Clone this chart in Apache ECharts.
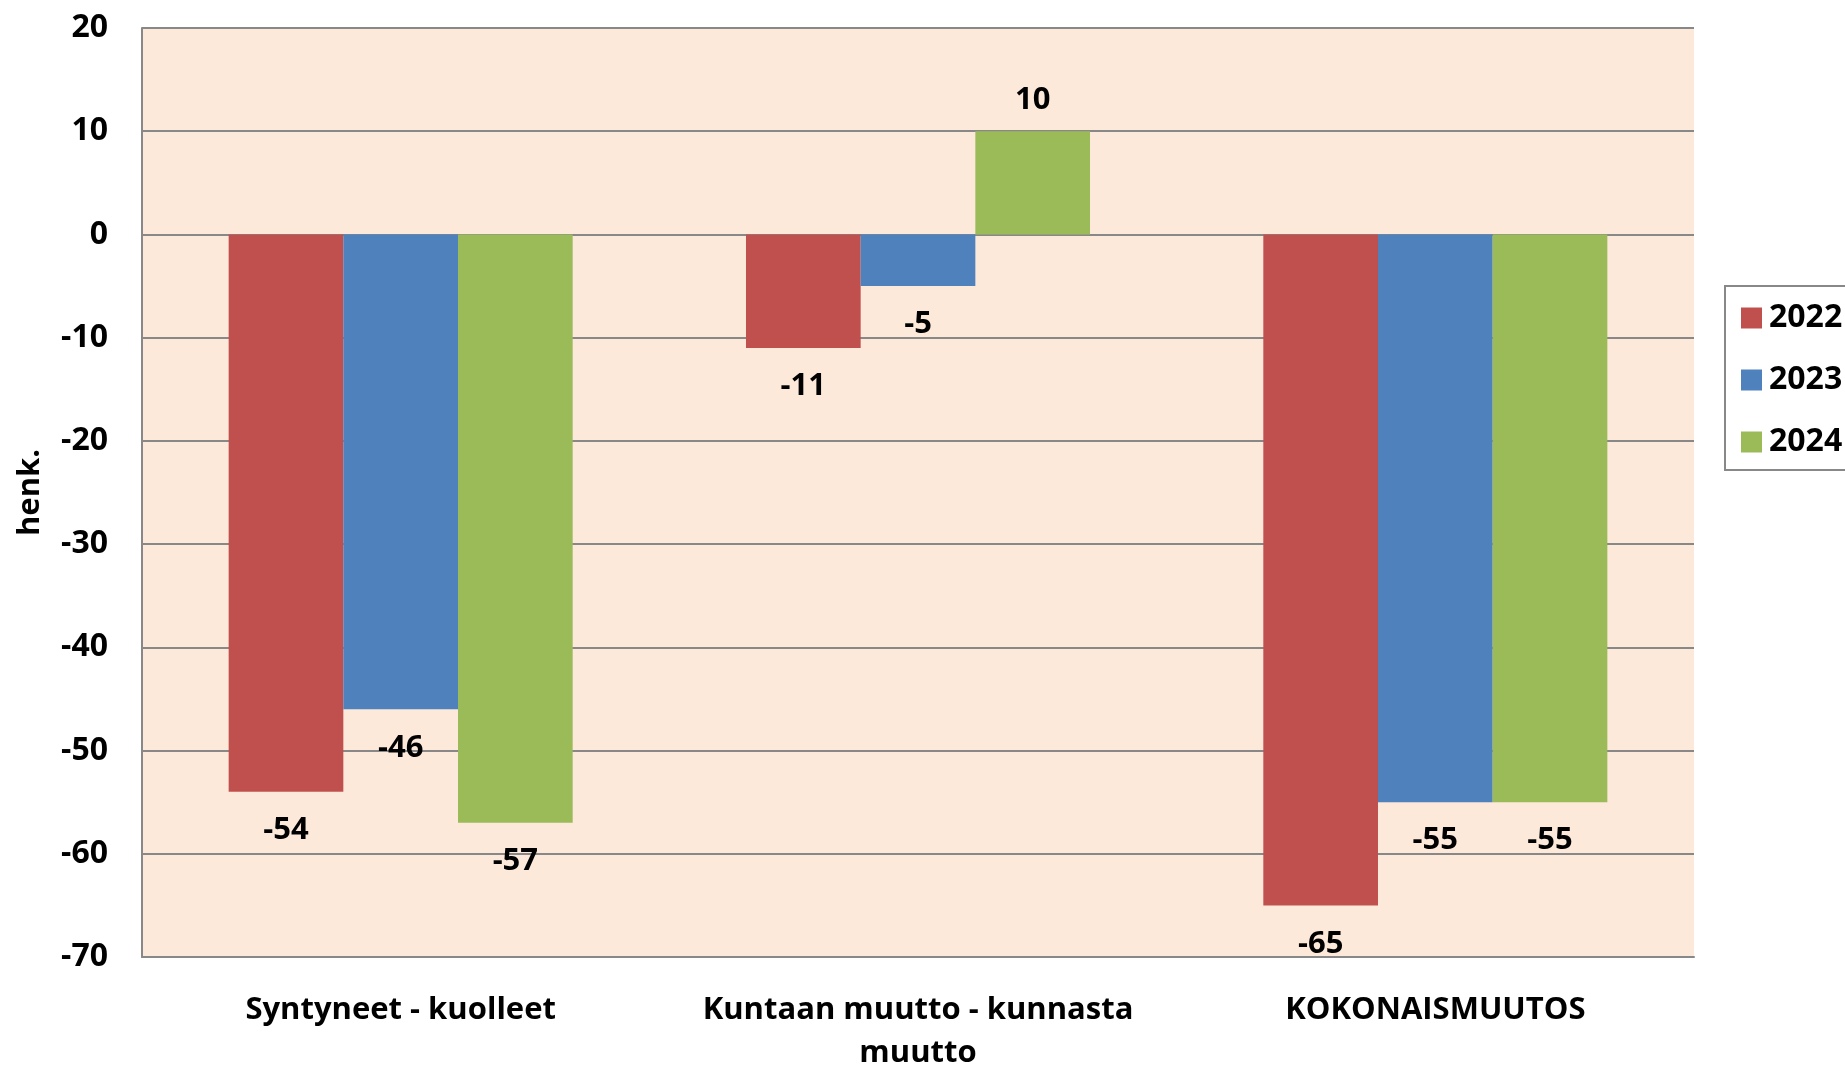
<!DOCTYPE html>
<html><head><meta charset="utf-8">
<script src="https://cdn.jsdelivr.net/npm/echarts@6/dist/echarts.min.js"></script>
<style>html,body{margin:0;padding:0;background:#fff}#c{width:1845px;height:1066px}</style>
</head><body><div id="c"></div>
<script>
const categories = ['Syntyneet - kuolleet', 'Kuntaan muutto - kunnasta\nmuutto', 'KOKONAISMUUTOS'];
const seriesNames = ['2022', '2023', '2024'];
const v2022 = [-54, -11, -65];
const v2023 = [-46, -5, -55];
const v2024 = [-57, 10, -55];
const colors = ['#C0504D', '#4F81BD', '#9BBB59'];
const FONT = '"Open Sans", "Noto Sans", sans-serif';

const chart = echarts.init(document.getElementById('c'));
const values = [v2022, v2023, v2024];
chart.setOption({
  animation: false,
  textStyle: { fontFamily: FONT },
  grid: { left: 142, top: 28, width: 1552, height: 929, show: true, backgroundColor: '#FDE9D9', borderWidth: 0, containLabel: false, outerBoundsMode: 'none' },
  legend: {
    orient: 'vertical', left: 1741, top: 302, itemWidth: 21, itemHeight: 21, itemGap: 30,
    icon: 'rect', padding: 0, borderWidth: 0,
    textStyle: { fontSize: 32, fontWeight: 'bold', color: '#000', fontFamily: FONT, padding: [0,0,0,2] },
    data: seriesNames
  },
  graphic: [{ type: 'rect', shape: { x: 1725, y: 286, width: 140, height: 184 }, style: { fill: '#fff', stroke: '#888', lineWidth: 2 }, z: -1 }],
  xAxis: {
    type: 'category', data: categories,
    axisLine: { onZero: false, lineStyle: { color: '#888', width: 2 } },
    axisTick: { show: false },
    axisLabel: { interval: 0, fontSize: 31, fontWeight: 'bold', color: '#000', margin: 32, lineHeight: 43, fontFamily: FONT }
  },
  yAxis: {
    type: 'value', min: -70, max: 20, interval: 10,
    name: 'henk.', nameLocation: 'middle', nameGap: 96, nameRotate: 90,
    nameTextStyle: { fontSize: 31, fontWeight: 'bold', color: '#000', fontFamily: FONT },
    axisLine: { show: true, lineStyle: { color: '#888', width: 2 } },
    axisTick: { show: false },
    splitLine: { lineStyle: { color: '#888', width: 2 } },
    axisLabel: { fontSize: 32, fontWeight: 'bold', color: '#000', margin: 34, fontFamily: FONT }
  },
  series: seriesNames.map((n, i) => ({
    name: n, type: 'bar', barGap: '0%', barCategoryGap: '33.5%',
    data: values[i].map(v => v > 0 ? { value: v, label: { distance: 16 } } : v),
    itemStyle: { color: colors[i] },
    label: { show: true, position: 'outside', distance: 23, fontSize: 31, fontWeight: 'bold', color: '#000', fontFamily: FONT,
      formatter: p => String(p.value) }
  }))
});
</script></body></html>
